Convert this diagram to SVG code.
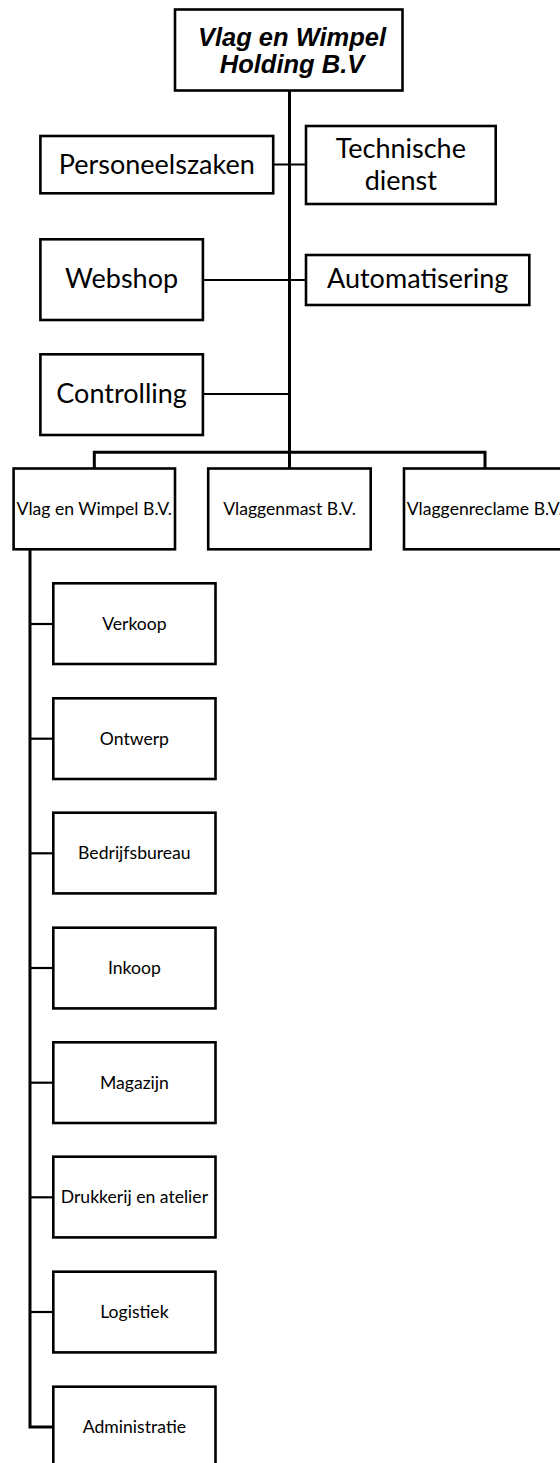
<svg xmlns="http://www.w3.org/2000/svg" width="560" height="1463" viewBox="0 0 560 1463">
<style>
.box{fill:#fff;stroke:#000;stroke-width:2.6}
.v{stroke:#000;stroke-width:3;fill:none}
.h{stroke:#000;stroke-width:2.2;fill:none}
.title{font-family:"Liberation Sans",Arial,sans-serif;font-weight:bold;font-style:italic;font-size:25.5px;text-anchor:middle;fill:#000}
.lg{font-family:Lato,"Open Sans",sans-serif;font-size:27px;text-anchor:middle;fill:#000}
.sm{font-family:Lato,"Open Sans",sans-serif;font-size:17.6px;text-anchor:middle;fill:#000}
</style>
<rect width="560" height="1463" fill="#fff"/>
<g id="connectors">
<path class="v" d="M289.5 91V452.3"/>
<path class="h" d="M273 164.5H306"/>
<path class="h" d="M203 280H306"/>
<path class="h" d="M203 394H289.5"/>
<path class="v" d="M94.3 468.5V452.3H485V468.5M289.5 452.3V468.5"/>
<path class="v" d="M30 549.3V1427H53"/>
<path class="h" d="M30 624H53"/>
<path class="h" d="M30 738.7H53"/>
<path class="h" d="M30 853.3H53"/>
<path class="h" d="M30 968H53"/>
<path class="h" d="M30 1082.7H53"/>
<path class="h" d="M30 1197.3H53"/>
<path class="h" d="M30 1312H53"/>
</g>
<g id="holding"><rect class="box" x="175" y="9.5" width="227.5" height="81"/><text class="title" x="292" y="46">Vlag en Wimpel</text><text class="title" x="292" y="73">Holding B.V</text></g>
<g id="personeelszaken"><rect class="box" x="40.4" y="136" width="232.8" height="57.3"/><text class="lg" x="156.8" y="174">Personeelszaken</text></g>
<g id="technische-dienst"><rect class="box" x="306" y="126" width="189.7" height="78"/><text class="lg" x="400.8" y="158.3">Technische</text><text class="lg" x="400.8" y="190">dienst</text></g>
<g id="webshop"><rect class="box" x="40.4" y="239.3" width="162.5" height="80.7"/><text class="lg" x="121.6" y="288.3">Webshop</text></g>
<g id="automatisering"><rect class="box" x="306" y="255" width="223.3" height="50"/><text class="lg" x="417.7" y="288">Automatisering</text></g>
<g id="controlling"><rect class="box" x="40.4" y="354.3" width="162.5" height="80.7"/><text class="lg" x="121.6" y="403">Controlling</text></g>
<g id="vlag-en-wimpel-bv"><rect class="box" x="13.6" y="468.5" width="161.4" height="80.8"/><text class="sm" x="94.3" y="515">Vlag en Wimpel B.V.</text></g>
<g id="vlaggenmast-bv"><rect class="box" x="208.2" y="468.5" width="162.5" height="80.8"/><text class="sm" x="289.5" y="515">Vlaggenmast B.V.</text></g>
<g id="vlaggenreclame-bv"><rect class="box" x="404" y="468.5" width="161.4" height="80.8"/><text class="sm" x="484.7" y="515">Vlaggenreclame B.V.</text></g>
<g id="verkoop"><rect class="box" x="53.3" y="583.3" width="162.2" height="80.7"/><text class="sm" x="134.4" y="630">Verkoop</text></g>
<g id="ontwerp"><rect class="box" x="53.3" y="698.3" width="162.2" height="80.7"/><text class="sm" x="134.4" y="744.7">Ontwerp</text></g>
<g id="bedrijfsbureau"><rect class="box" x="53.3" y="812.7" width="162.2" height="80.7"/><text class="sm" x="134.4" y="859.3">Bedrijfsbureau</text></g>
<g id="inkoop"><rect class="box" x="53.3" y="927.7" width="162.2" height="80.7"/><text class="sm" x="134.4" y="974">Inkoop</text></g>
<g id="magazijn"><rect class="box" x="53.3" y="1042.3" width="162.2" height="80.7"/><text class="sm" x="134.4" y="1088.7">Magazijn</text></g>
<g id="drukkerij"><rect class="box" x="53.3" y="1156.7" width="162.2" height="80.7"/><text class="sm" x="134.4" y="1203.3">Drukkerij en atelier</text></g>
<g id="logistiek"><rect class="box" x="53.3" y="1271.7" width="162.2" height="80.7"/><text class="sm" x="134.4" y="1318">Logistiek</text></g>
<g id="administratie"><rect class="box" x="53.3" y="1386.7" width="162.2" height="80.7"/><text class="sm" x="134.4" y="1433">Administratie</text></g>
</svg>
